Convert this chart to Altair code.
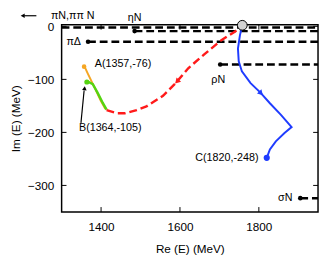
import altair as alt
import pandas as pd

FONT = "Liberation Sans"
W, H = 263, 192
X_DOM = [1300, 1950]
Y_DOM = [-350, 3]

# threshold dashed lines
thr_start = [1300, 1485, 1367, 1702, 1905]
thr_im = [-2, -9, -29, -72, -324]
thr_end = [1950, 1950, 1950, 1950, 1950]

# threshold dots
dot_re = [1485, 1367, 1702, 1905]
dot_im = [-9, -29, -72, -324]

# threshold labels
lab_c_text = ["ηN", "ρN"]
lab_c_re = [1485, 1697]
lab_c_im = [16, -101]
lab_r_text = ["πΔ", "σN"]
lab_r_re = [1349, 1885]
lab_r_im = [-29, -324]

# pole trajectories
orange_re = [1357, 1367, 1384, 1399, 1411]
orange_im = [-74, -90, -116, -140, -156]
green_re = [1364, 1379, 1391, 1404, 1414]
green_im = [-103, -109, -125, -144, -157]
red_re = [1414, 1441, 1460, 1490, 1515, 1557, 1589, 1621, 1663, 1705, 1737, 1754, 1758]
red_im = [-158, -164, -164, -158, -151, -131, -107, -79, -52, -26, -11, -2, 2]
blue_re = [1758, 1752, 1747, 1749, 1757, 1779, 1804, 1828, 1856, 1883, 1865, 1843, 1828, 1820]
blue_im = [2, -17, -42, -66, -85, -107, -125, -145, -167, -190, -201, -217, -232, -248]

# start circle
circ_re = [1758]
circ_im = [2]

# pole end points
pole_re = [1357, 1364, 1820]
pole_im = [-76, -105, -248]
pole_col = ["#f5a623", "#55d411", "#1f3cff"]
pole_size = [22, 28, 40]
pole_text_l = ["A(1357,-76)", "B(1364,-105)"]
pole_tl_re = [1384, 1344]
pole_tl_im = [-72, -191]
pole_text_r = ["C(1820,-248)"]
pole_tr_re = [1799]
pole_tr_im = [-248]

# arrows on curves
arr_re = [1594, 1804, 1358, 1203]
arr_im = [-103, -125, -118, 20]
arr_ang = [223, 136, 7, 270]
arr_col = ["#ff1a1a", "#1f3cff", "black", "black"]
arr_size = [40, 40, 22, 22]

# pointer lines
ptr_re = [1349, 1236]
ptr_im = [-182, 20]
ptr_re2 = [1357, 1205]
ptr_im2 = [-121, 20]

# top-left label
tl_text = ["πN,ππ N"]
tl_re = [1273]
tl_im = [20]

x_ticks = [1400, 1600, 1800]
y_ticks = [0, -100, -200, -300]

xs = alt.Scale(domain=X_DOM, nice=False, zero=False)
ys = alt.Scale(domain=Y_DOM, nice=False, zero=False)


def X(f="re", **kw):
    return alt.X(f"{f}:Q", scale=xs, **kw)


def Y(f="im", **kw):
    return alt.Y(f"{f}:Q", scale=ys, **kw)


def curve(re, im, color, width, dash=None):
    df = pd.DataFrame({"re": re, "im": im, "i": range(len(re))})
    kw = dict(color=color, strokeWidth=width, strokeCap="butt")
    if dash:
        kw["strokeDash"] = dash
    return alt.Chart(df).mark_line(**kw).encode(x=X(), y=Y(), order="i:Q")


base_axes = alt.Chart(pd.DataFrame({"re": [1300], "im": [0]})).mark_point(opacity=0).encode(
    x=X(title="Re (E) (MeV)",
        axis=alt.Axis(values=x_ticks, format="d", ticks=False, domain=False, grid=False,
                      labelPadding=10, titlePadding=12, labelFontSize=12, titleFontSize=12,
                      labelFont=FONT, titleFont=FONT, labelColor="black", titleColor="black",
                      titleFontWeight="normal")),
    y=Y(title="Im (E) (MeV)",
        axis=alt.Axis(values=y_ticks, format="d", ticks=False, domain=False, grid=False,
                      labelPadding=8, titlePadding=5, labelFontSize=12, titleFontSize=12,
                      labelFont=FONT, titleFont=FONT, labelColor="black", titleColor="black",
                      titleFontWeight="normal")),
)

xt = pd.DataFrame({"re": x_ticks})
yt = pd.DataFrame({"im": y_ticks})
tick_b = alt.Chart(xt).mark_rule(color="black", strokeWidth=1).encode(
    x=X(), y=alt.value(H), y2=alt.value(H - 5))
tick_t = alt.Chart(xt).mark_rule(color="black", strokeWidth=1).encode(
    x=X(), y=alt.value(0), y2=alt.value(5))
tick_l = alt.Chart(yt).mark_rule(color="black", strokeWidth=1).encode(
    y=Y(), x=alt.value(0), x2=alt.value(5))
tick_r = alt.Chart(yt).mark_rule(color="black", strokeWidth=1).encode(
    y=Y(), x=alt.value(W), x2=alt.value(W - 5))

thr = alt.Chart(pd.DataFrame({"re": thr_start, "re2": thr_end, "im": thr_im})).mark_rule(
    color="black", strokeWidth=2.5, strokeDash=[8, 4]).encode(x=X(), x2="re2:Q", y=Y())
dots = alt.Chart(pd.DataFrame({"re": dot_re, "im": dot_im})).mark_point(
    filled=True, color="black", size=22, opacity=1).encode(x=X(), y=Y())

txt = dict(font=FONT, fontSize=11, color="black", baseline="middle")
lab_c = alt.Chart(pd.DataFrame({"re": lab_c_re, "im": lab_c_im, "t": lab_c_text})).mark_text(
    align="center", **txt).encode(x=X(), y=Y(), text="t:N")
lab_r = alt.Chart(pd.DataFrame({"re": lab_r_re, "im": lab_r_im, "t": lab_r_text})).mark_text(
    align="right", **txt).encode(x=X(), y=Y(), text="t:N")

orange = curve(orange_re, orange_im, "#f5a623", 2)
green = curve(green_re, green_im, "#55d411", 2.5)
red = curve(red_re, red_im, "#ff1a1a", 2.5, [8, 4])
blue = curve(blue_re, blue_im, "#1f3cff", 2)

poles = alt.Chart(pd.DataFrame({"re": pole_re, "im": pole_im, "c": pole_col, "s": pole_size})).mark_point(
    filled=True, opacity=1).encode(x=X(), y=Y(), color=alt.Color("c:N", scale=None),
                                   size=alt.Size("s:Q", scale=None))
circ = alt.Chart(pd.DataFrame({"re": circ_re, "im": circ_im})).mark_point(
    filled=True, fill="#d3d3d3", stroke="black", strokeWidth=1, size=100, opacity=1).encode(x=X(), y=Y())

pt_l = alt.Chart(pd.DataFrame({"re": pole_tl_re, "im": pole_tl_im, "t": pole_text_l})).mark_text(
    align="left", **txt).encode(x=X(), y=Y(), text="t:N")
pt_r = alt.Chart(pd.DataFrame({"re": pole_tr_re, "im": pole_tr_im, "t": pole_text_r})).mark_text(
    align="right", **txt).encode(x=X(), y=Y(), text="t:N")

ptr = alt.Chart(pd.DataFrame({"re": ptr_re, "im": ptr_im, "re2": ptr_re2, "im2": ptr_im2})).mark_rule(
    color="black", strokeWidth=1.2).encode(x=X(), y=Y(), x2="re2:Q", y2="im2:Q")
arrows = alt.Chart(pd.DataFrame({"re": arr_re, "im": arr_im, "a": arr_ang, "c": arr_col, "s": arr_size})).mark_point(
    shape="triangle", filled=True, opacity=1).encode(
    x=X(), y=Y(), angle=alt.Angle("a:Q", scale=None), color=alt.Color("c:N", scale=None),
    size=alt.Size("s:Q", scale=None))

tl = alt.Chart(pd.DataFrame({"re": tl_re, "im": tl_im, "t": tl_text})).mark_text(
    align="left", **txt).encode(x=X(), y=Y(), text="t:N")

chart = alt.layer(
    base_axes, tick_b, tick_t, tick_l, tick_r, thr, dots, lab_c, lab_r,
    orange, green, red, blue, poles, circ, pt_l, pt_r, ptr, arrows, tl
).properties(
    width=W, height=H,
    autosize=alt.AutoSizeParams(type="none"),
    padding={"left": 55, "top": 14, "right": 1, "bottom": 42},
).configure_view(stroke="black", strokeWidth=1.5)

chart.save("out.html", embed_options={"renderer": "svg", "actions": False})
